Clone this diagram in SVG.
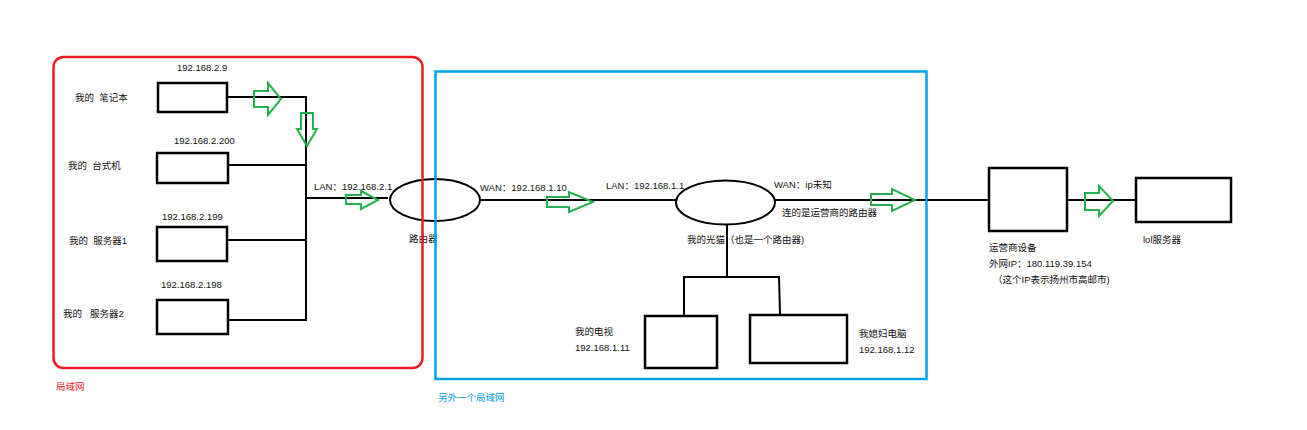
<svg xmlns="http://www.w3.org/2000/svg" width="1307" height="430" viewBox="0 0 1307 430" xml:space="preserve">
<style>
text{font-family:"Liberation Sans","Noto Sans CJK SC",sans-serif;font-size:9.5px;fill:#111;white-space:pre}
.box{fill:none;stroke:#000;stroke-width:2.5}
.ln{fill:none;stroke:#000;stroke-width:2}
.arr{fill:none;stroke:#22b14c;stroke-width:2;stroke-linejoin:miter}
</style>
<rect width="1307" height="430" fill="#fff"/>
<g id="connectors">
<polyline class="ln" points="227,97 306,97 306,320 228,320"/>
<line class="ln" x1="228" y1="165" x2="306" y2="165"/>
<line class="ln" x1="228" y1="240" x2="306" y2="240"/>
<line class="ln" x1="306" y1="198" x2="388" y2="198"/>
<line class="ln" x1="480" y1="200" x2="676" y2="200"/>
<line class="ln" x1="775" y1="200" x2="989" y2="200"/>
<line class="ln" x1="1067" y1="200" x2="1136" y2="200"/>
<line class="ln" x1="727" y1="225" x2="727" y2="277"/>
<polyline class="ln" points="684,316 684,277 779,277 780,314"/>
<polygon class="arr" points="254,91 268,91 268,83 281,99 268,115 268,107 254,107"/>
<polygon class="arr" points="301,113 313,113 313,129 317,129 307,146 297,129 301,129"/>
<polygon class="arr" points="346,195 361,195 361,191 378,200 361,209 361,204 346,204"/>
<polygon class="arr" points="547,197 569,197 569,192 593,202 569,212 569,207 547,207"/>
<polygon class="arr" points="871,194 892,194 892,189 915,200 892,211 892,205 871,205"/>
<polygon class="arr" points="1085,193 1099,193 1099,186 1113,201 1099,216 1099,210 1085,210"/>
</g>
<g id="laptop"><rect class="box" x="158" y="83" width="69" height="29"/><text x="75" y="101">我的  笔记本</text><text x="177" y="71">192.168.2.9</text></g>
<g id="desktop"><rect class="box" x="157" y="153" width="71" height="30"/><text x="68" y="169">我的  台式机</text><text x="174" y="144">192.168.2.200</text></g>
<g id="server1"><rect class="box" x="157" y="227" width="70" height="34"/><text x="69" y="244">我的  服务器1</text><text x="162" y="220">192.168.2.199</text></g>
<g id="server2"><rect class="box" x="157" y="300" width="71" height="34"/><text x="63" y="317">我的   服务器2</text><text x="161" y="288">192.168.2.198</text></g>
<g id="router"><ellipse class="ln" cx="435" cy="200" rx="45" ry="21"/><text x="314" y="190">LAN：192.168.2.1</text><text x="409" y="242">路由器</text><text x="480" y="191">WAN：192.168.1.10</text></g>
<g id="modem"><ellipse class="ln" cx="725.5" cy="202.5" rx="49.5" ry="22"/><text x="606" y="189">LAN：192.168.1.1</text><text x="774" y="188">WAN：ip未知</text><text x="782" y="216">连的是运营商的路由器</text><text x="687" y="243">我的光猫（也是一个路由器)</text></g>
<g id="tv"><rect class="box" x="645" y="316" width="72" height="52"/><text x="575" y="335">我的电视</text><text x="575" y="351">192.168.1.11</text></g>
<g id="wife-pc"><rect class="box" x="750" y="315" width="97" height="48"/><text x="859" y="337">我媳妇电脑</text><text x="859" y="353">192.168.1.12</text></g>
<g id="isp"><rect class="box" x="989" y="168" width="78" height="63"/><text x="989" y="251">运营商设备</text><text x="989" y="267">外网IP：180.119.39.154</text><text x="993" y="283">（这个IP表示扬州市高邮市)</text></g>
<g id="lol"><rect class="box" x="1136" y="178" width="95" height="44"/><text x="1143" y="243">lol服务器</text></g>
<g id="frames">
<rect x="53.5" y="57" width="369" height="311" rx="10" fill="none" stroke="#ed1c24" stroke-width="2.5"/>
<text x="56" y="390" style="fill:#ed1c24">局域网</text>
<rect x="435.5" y="71.5" width="491" height="307.5" fill="none" stroke="#00a2e8" stroke-width="2.5"/>
<text x="438" y="401" style="fill:#00a2e8">另外一个局域网</text>
</g>
</svg>
